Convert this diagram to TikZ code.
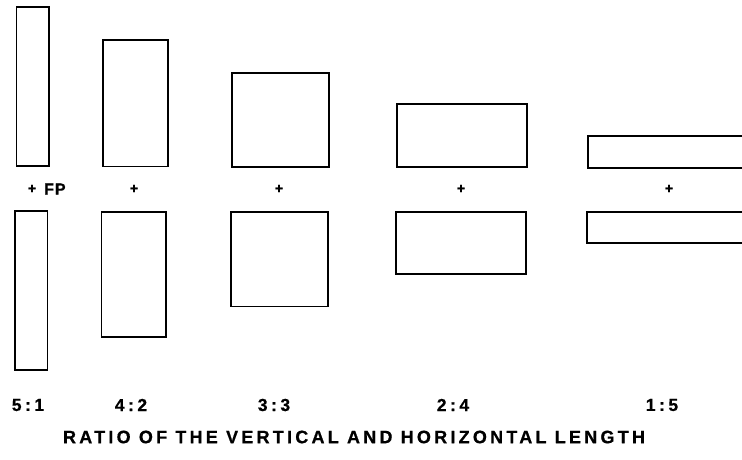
\documentclass[tikz,border=0pt]{standalone}
\usepackage{fontspec}
\setmainfont{Liberation Sans}
\newfontfamily\labfont{Liberation Sans}[LetterSpace=18, FakeBold=0.6]
\newfontfamily\fpfont{Liberation Sans}[LetterSpace=6, FakeBold=0.6]
\newfontfamily\plusfont{Liberation Sans}[FakeBold=2]
\begin{document}
\begin{tikzpicture}[x=1pt,y=-1pt,
  box/.style={draw=black, line width=1.8pt, inner sep=0pt, outer sep=0pt},
  plus/.style={font=\plusfont\bfseries\fontsize{14}{14}\selectfont, inner sep=0pt},
  ratio/.style={font=\labfont\bfseries\fontsize{17.5}{17.5}\selectfont, inner sep=0pt},
  titletext/.style={font=\labfont\bfseries\fontsize{18}{18}\selectfont, inner sep=0pt}]
\useasboundingbox (0,0) rectangle (742,459);
\clip (0,0) rectangle (742,459);
% 5:1
\node[box, minimum width=32.5pt, minimum height=159pt] (r1t) at (32.75,86.5) {};
\node[box, minimum width=32.5pt, minimum height=159pt] (r1b) at (31.25,290.5) {};
% 4:2
\node[box, minimum width=65pt, minimum height=126.5pt] (r2t) at (135.5,103.25) {};
\node[box, minimum width=64.5pt, minimum height=125pt] (r2b) at (133.75,274.5) {};
% 3:3
\node[box, minimum width=97pt, minimum height=94pt] (r3t) at (280.5,120) {};
\node[box, minimum width=97pt, minimum height=94.5pt] (r3b) at (279.5,259.25) {};
% 2:4
\node[box, minimum width=130pt, minimum height=63pt] (r4t) at (462,135.5) {};
\node[box, minimum width=130pt, minimum height=62pt] (r4b) at (461,243) {};
% 1:5
\node[box, minimum width=170pt, minimum height=32pt] (r5t) at (673,152) {};
\node[box, minimum width=170pt, minimum height=31pt] (r5b) at (672,227.5) {};
% fixation points
\node[plus] (p1) at (32,189) {+};
\node[font=\fpfont\bfseries\fontsize{16}{16}\selectfont, inner sep=0pt, anchor=west] (fp) at (44,189) {FP};
\node[plus] (p2) at (134,189) {+};
\node[plus] (p3) at (279,189) {+};
\node[plus] (p4) at (461,189) {+};
\node[plus] (p5) at (669,189) {+};
% ratio labels
\node[ratio] (l1) at (28,405) {5\hspace{3.5pt}:\hspace{3.5pt}1};
\node[ratio] (l2) at (131,405) {4\hspace{3.5pt}:\hspace{3.5pt}2};
\node[ratio] (l3) at (274,405) {3\hspace{3.5pt}:\hspace{3.5pt}3};
\node[ratio] (l4) at (453,405) {2\hspace{3.5pt}:\hspace{3.5pt}4};
\node[ratio] (l5) at (662,405) {1\hspace{3.5pt}:\hspace{3.5pt}5};
% title
\node[titletext] (title) at (354,437) {RATIO OF THE VERTICAL AND HORIZONTAL LENGTH};
\end{tikzpicture}
\end{document}
